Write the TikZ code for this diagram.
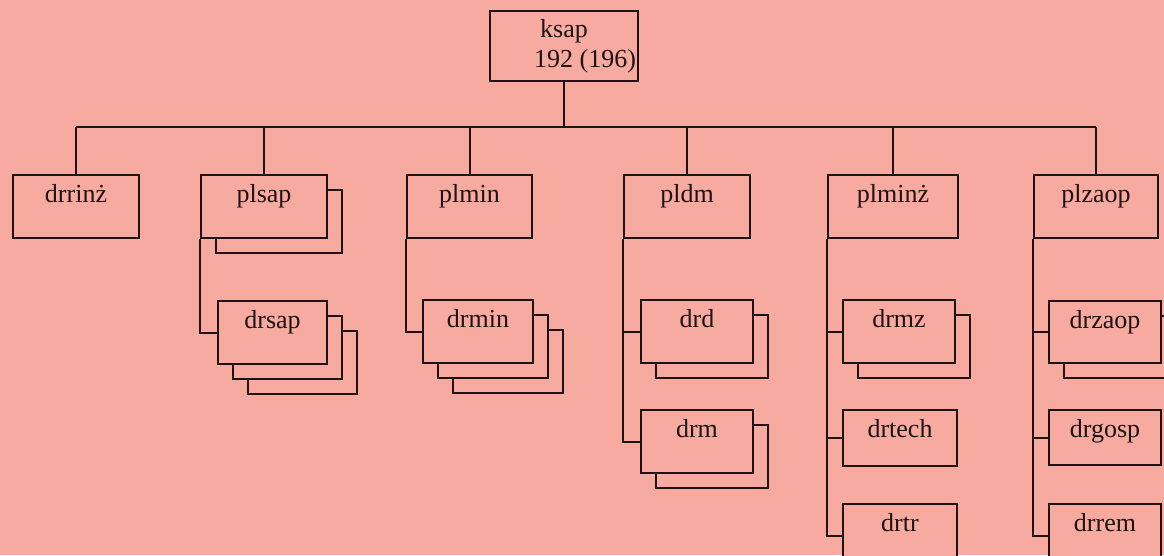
\documentclass[tikz,border=0pt]{standalone}
\usepackage{fontspec}
\setmainfont{Liberation Serif}
\usetikzlibrary{shadows}
\definecolor{bg}{RGB}{246,170,160}
\definecolor{ink}{RGB}{30,18,18}
\begin{document}
\begin{tikzpicture}[x=1pt,y=-1pt,
  box/.style={draw=ink, line width=2pt, fill=bg, anchor=north west, inner sep=0pt,
              minimum height=63pt},
  lbl/.style={anchor=base, yshift=-28pt, text=ink, inner sep=0pt,
              font=\fontsize{26}{31}\selectfont},
  sh1/.style={copy shadow={shadow xshift=15pt, shadow yshift=-15pt, draw=ink, fill=bg, line width=2pt}},
  sh2/.style={double copy shadow={shadow xshift=15pt, shadow yshift=-15pt, draw=ink, fill=bg, line width=2pt}},
  wire/.style={draw=ink, line width=2pt}]
\useasboundingbox (0,0) rectangle (1164,555);
\fill[bg] (0,0) rectangle (1164,555);
% top
\node[box, minimum width=148pt, minimum height=70pt,
      label={[lbl,yshift=1pt]north:ksap},
      label={[lbl,xshift=21pt,yshift=-29pt]north:192 (196)}] (ksap) at (489,10) {};
% level 1
\node[box, minimum width=126pt, label={[lbl]north:drrinż}] (drrinz) at (12,174) {};
\node[box, sh1, minimum width=126pt, label={[lbl]north:plsap}] (plsap) at (200,174) {};
\node[box, minimum width=125pt, label={[lbl]north:plmin}] (plmin) at (406,174) {};
\node[box, minimum width=126pt, label={[lbl]north:pldm}] (pldm) at (623,174) {};
\node[box, minimum width=130pt, label={[lbl]north:plminż}] (plminz) at (827,174) {};
\node[box, minimum width=124pt, label={[lbl]north:plzaop}] (plzaop) at (1033,174) {};
% level 2
\node[box, sh2, minimum width=109pt, label={[lbl]north:drsap}] (drsap) at (217,300) {};
\node[box, sh2, minimum width=110pt, label={[lbl]north:drmin}] (drmin) at (422,299) {};
\node[box, sh1, minimum width=112pt, label={[lbl]north:drd}] (drd) at (640,299) {};
\node[box, sh1, minimum width=112pt, label={[lbl]north:drm}] (drm) at (640,409) {};
\node[box, sh1, minimum width=112pt, label={[lbl]north:drmz}] (drmz) at (842,299) {};
\node[box, minimum width=114pt, minimum height=56pt, label={[lbl]north:drtech}] (drtech) at (842,409) {};
\node[box, minimum width=114pt, label={[lbl]north:drtr}] (drtr) at (842,503) {};
\node[box, sh1, minimum width=112pt, minimum height=62pt, label={[lbl]north:drzaop}] (drzaop) at (1048,300) {};
\node[box, minimum width=112pt, minimum height=55pt, label={[lbl]north:drgosp}] (drgosp) at (1048,409) {};
\node[box, minimum width=112pt, label={[lbl]north:drrem}] (drrem) at (1048,503) {};
% bus
\coordinate (bus) at (0,127);
\draw[wire] (ksap.south) -- (ksap.south |- bus);
\draw[wire] (drrinz.north |- bus) -- (plzaop.north |- bus);
\foreach \n in {drrinz,plsap,plmin,pldm,plminz,plzaop}
  \draw[wire] (\n.north) -- (\n.north |- bus);
% side branches
\draw[wire] (plsap.south west) |- (drsap.west);
\draw[wire] (plmin.south west) |- (drmin.west);
\draw[wire] (pldm.south west) |- (drd.west);
\draw[wire] (pldm.south west) |- (drm.west);
\draw[wire] (plminz.south west) |- (drmz.west);
\draw[wire] (plminz.south west) |- (drtech.west);
\draw[wire] (plminz.south west) |- (drtr.west);
\draw[wire] (plzaop.south west) |- (drzaop.west);
\draw[wire] (plzaop.south west) |- (drgosp.west);
\draw[wire] (plzaop.south west) |- (drrem.west);
\end{tikzpicture}
\end{document}
